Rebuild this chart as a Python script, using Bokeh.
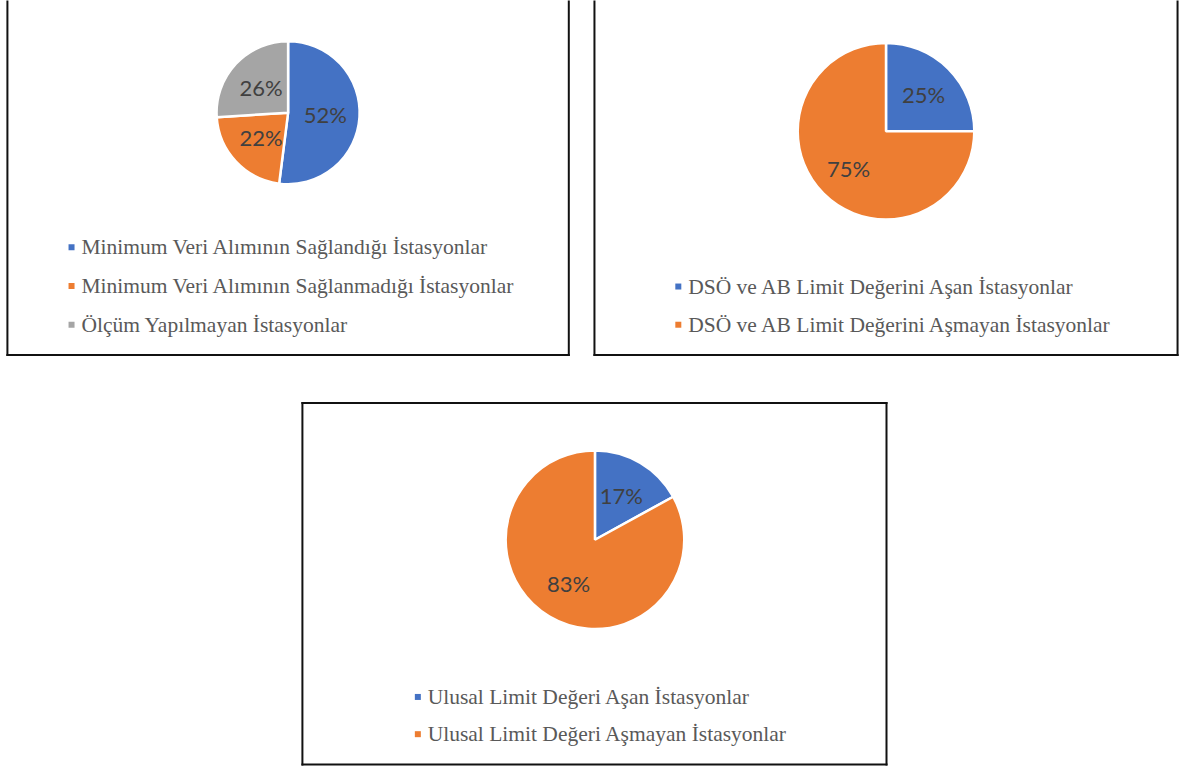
import math
from bokeh.plotting import figure
from bokeh.models import Range1d
from bokeh.core.properties import value
from bokeh.embed import file_html
from bokeh.resources import INLINE

# ---------------- data ----------------
panel1_labels = ["Minimum Veri Alımının  Sağlandığı İstasyonlar",
                 "Minimum Veri Alımının  Sağlanmadığı İstasyonlar",
                 "Ölçüm Yapılmayan İstasyonlar"]
panel1_values = [52, 22, 26]

panel2_labels = ["DSÖ ve AB Limit Değerini Aşan İstasyonlar",
                 "DSÖ ve AB Limit Değerini Aşmayan İstasyonlar"]
panel2_values = [25, 75]

panel3_labels = ["Ulusal Limit Değeri Aşan İstasyonlar",
                 "Ulusal Limit Değeri Aşmayan İstasyonlar"]
panel3_values = [17, 83]

slice_colors = ["#4472C4", "#ED7D31", "#A5A5A5"]

# ---------------- layout (reference pixel coordinates) ----------------
W, H = 1181, 766
REF_W, REF_H = 1197, 782


def Y(py):
    return REF_H - py


p = figure(width=W, height=H, output_backend="svg", toolbar_location=None,
           x_range=Range1d(0, REF_W), y_range=Range1d(0, REF_H),
           min_border=0)
p.axis.visible = False
p.grid.visible = False
p.outline_line_color = None
p.background_fill_color = "white"
p.border_fill_color = "white"

SERIF = value("'Liberation Serif', 'Times New Roman', serif")

panels = [
    dict(labels=panel1_labels, values=panel1_values, cx=291.5, cy=114.5, r=72.5,
         lf=0.52, mx=72, tx=82, rows=[252, 291.5, 331]),
    dict(labels=panel2_labels, values=panel2_values, cx=897.5, cy=133.5, r=89.5,
         lf=0.6, mx=687, tx=697, rows=[292, 331]),
    dict(labels=panel3_labels, values=panel3_values, cx=602.5, cy=550.5, r=90.5,
         lf=0.58, mx=423, tx=433, rows=[711, 749]),
]

for pn in panels:
    vals = pn["values"]
    tot = float(sum(vals))
    cum = 0.0
    starts, ends, cols, lx, ly, ltxt = [], [], [], [], [], []
    for i, v in enumerate(vals):
        c0 = cum / tot
        c1 = (cum + v) / tot
        cum += v
        starts.append(math.pi / 2 - 2 * math.pi * c0)
        ends.append(math.pi / 2 - 2 * math.pi * c1)
        cols.append(slice_colors[i])
        cm = (c0 + c1) / 2
        th = math.pi / 2 - 2 * math.pi * cm
        lx.append(pn["cx"] + pn["lf"] * pn["r"] * math.cos(th))
        ly.append(Y(pn["cy"]) + pn["lf"] * pn["r"] * math.sin(th))
        ltxt.append(f"{v}%")
    n = len(vals)
    p.wedge(x=[pn["cx"]] * n, y=[Y(pn["cy"])] * n, radius=pn["r"],
            start_angle=starts, end_angle=ends, direction="clock",
            fill_color=cols, line_color="white", line_width=2.5)
    p.text(x=lx, y=ly, text=ltxt, text_font=value("Lato"), text_font_size="22px",
           text_color="#404040", text_align="center", text_baseline="middle")
    # legend
    p.scatter(x=[pn["mx"]] * n, y=[Y(r) for r in pn["rows"]], marker="square",
              size=6, fill_color=cols, line_color=None)
    p.text(x=[pn["tx"]] * n, y=[Y(r) for r in pn["rows"]], text=pn["labels"],
           text_font=SERIF, text_font_size="21.5px",
           text_color="#595959", text_align="left", text_baseline="middle")

# panel borders (left/right/top/bottom in reference px)
boxes = [
    (7, 576, -5, 362),
    (602, 1193, -5, 362),
    (306, 898, 411, 780),
]
x0s, y0s, x1s, y1s = [], [], [], []
for (l, r, t, b) in boxes:
    for (a, bb, c, d) in [(l, t, l, b), (r, t, r, b), (l, b, r, b), (l, t, r, t)]:
        x0s.append(a); y0s.append(Y(bb)); x1s.append(c); y1s.append(Y(d))
p.segment(x0=x0s, y0=y0s, x1=x1s, y1=y1s, line_color="#111111", line_width=2,
          line_cap="square")

open("out.html", "w").write(file_html(p, INLINE))
